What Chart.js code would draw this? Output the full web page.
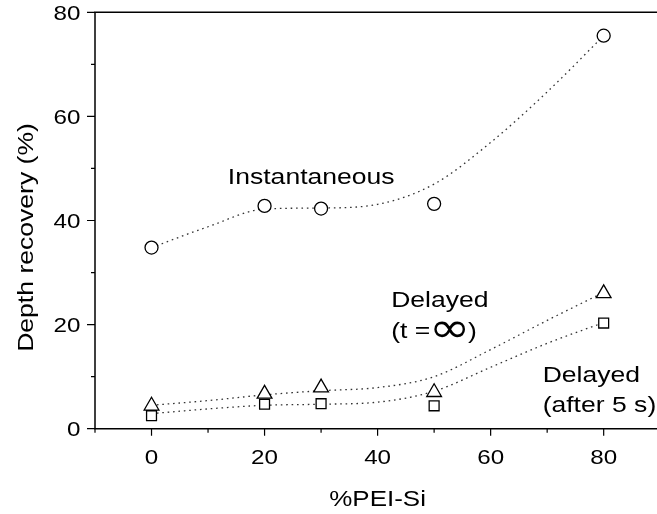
<!DOCTYPE html>
<html><head><meta charset="utf-8">
<script src="https://cdn.jsdelivr.net/npm/chart.js@4/dist/chart.umd.min.js"></script>
<style>html,body{margin:0;padding:0;overflow:hidden;background:#fff}#wrap{width:670px;height:514px}</style>
</head><body><div id="wrap"><canvas id="c" width="670" height="514"></canvas></div>
<script>
// ---- data ----
const xCategories = [0, 20, 30, 50, 80];
const instantaneous = [34.8, 42.8, 42.3, 43.2, 75.5];
const delayedInfinity = [4.4, 6.7, 7.9, 7.0, 26.0];
const delayedAfter5s = [2.5, 4.7, 4.8, 4.4, 20.3];
// dotted fitted curves
const fitX = [0, 10, 20, 30, 40, 50, 60, 70, 80];
const instantaneousFit = [34.8, 38.8, 42.2, 42.4, 43.1, 47.0, 55.0, 64.7, 75.5];
const delayedInfinityFit = [4.5, 5.4, 6.5, 7.3, 7.9, 10.0, 15.2, 20.8, 26.2];
const delayedAfter5sFit = [2.9, 3.8, 4.5, 4.7, 5.1, 7.2, 11.8, 16.4, 20.4];
// axes
const xMajorTicks = [0, 20, 40, 60, 80];
const xMinorTicks = [-10, 10, 30, 50, 70, 90];
const yMajorTicks = [0, 20, 40, 60, 80];
const yMinorTicks = [10, 30, 50, 70];
const xTitle = '%PEI-Si';
const yTitle = 'Depth recovery (%)';
// annotation labels (data coordinates of their left/baseline)
const labelTexts = ['Instantaneous', 'Delayed', 'Delayed', '(after 5 s)'];
const labelX = [13.5, 42.4, 69.2, 69.2];
const labelY = [47.0, 23.3, 9.0, 3.2];

const pts = (xs, ys) => xs.map((x, i) => ({x: x, y: ys[i]}));
const FONT = '"Liberation Sans", Arial, sans-serif';
const SX = 1.18;

function txt(ctx, s, x, y, size, align, base, font) {
  ctx.save();
  ctx.translate(x, y);
  ctx.scale(SX, 1);
  ctx.font = size + 'px ' + (font || FONT);
  ctx.textAlign = align;
  ctx.textBaseline = base;
  ctx.fillStyle = '#000';
  ctx.fillText(s, 0, 0);
  ctx.restore();
}
function txtWidth(ctx, s, size, font) {
  ctx.save();
  ctx.font = size + 'px ' + (font || FONT);
  const w = ctx.measureText(s).width * SX;
  ctx.restore();
  return w;
}

const axesPlugin = {
  id: 'axesPlugin',
  afterDraw(chart) {
    const ctx = chart.ctx, a = chart.chartArea;
    const xs = chart.scales.x, ys = chart.scales.y;
    ctx.save();
    ctx.strokeStyle = '#000';
    ctx.lineWidth = 1.5;
    ctx.beginPath();
    ctx.moveTo(a.left, a.top); ctx.lineTo(a.right, a.top);
    ctx.moveTo(a.left, a.top - 0.75); ctx.lineTo(a.left, a.bottom);
    ctx.moveTo(a.left - 0.75, a.bottom); ctx.lineTo(a.right, a.bottom);
    ctx.moveTo(a.right, a.top); ctx.lineTo(a.right, a.bottom);
    ctx.stroke();
    ctx.lineWidth = 1.2;
    ctx.beginPath();
    xMajorTicks.forEach(v => { const p = xs.getPixelForValue(v); ctx.moveTo(p, a.bottom); ctx.lineTo(p, a.bottom + 7); });
    xMinorTicks.forEach(v => { const p = xs.getPixelForValue(v); ctx.moveTo(p, a.bottom); ctx.lineTo(p, a.bottom + 4); });
    yMajorTicks.forEach(v => { const p = ys.getPixelForValue(v); ctx.moveTo(a.left, p); ctx.lineTo(a.left - 8, p); });
    yMinorTicks.forEach(v => { const p = ys.getPixelForValue(v); ctx.moveTo(a.left, p); ctx.lineTo(a.left - 4, p); });
    ctx.stroke();
    // tick labels
    xMajorTicks.forEach(v => txt(ctx, String(v), xs.getPixelForValue(v), 463.5, 20.5, 'center', 'alphabetic'));
    yMajorTicks.forEach(v => txt(ctx, String(v), 80.5, ys.getPixelForValue(v) + 7.4, 20.5, 'right', 'alphabetic'));
    // axis titles
    txt(ctx, xTitle, (a.left + a.right) / 2, 505.5, 22, 'center', 'alphabetic');
    ctx.save();
    ctx.translate(32.5, 237.5);
    ctx.rotate(-Math.PI / 2);
    txt(ctx, yTitle, 0, 0, 22.5, 'center', 'alphabetic');
    ctx.restore();
    // annotations
    labelTexts.forEach((s, i) => txt(ctx, s, xs.getPixelForValue(labelX[i]), ys.getPixelForValue(labelY[i]), 22.5, 'left', 'alphabetic'));
    // "(t =∞)" line under the first "Delayed"
    const INF_FONT = '"DejaVu Sans", sans-serif';
    let lx = xs.getPixelForValue(labelX[1]);
    const ly = ys.getPixelForValue(17.4);
    txt(ctx, '(t =', lx, ly, 22.5, 'left', 'alphabetic');
    lx += txtWidth(ctx, '(t =', 22.5) - 1.5;
    txt(ctx, '\u221E', lx, ly + 3.5, 42, 'left', 'alphabetic', INF_FONT);
    lx += txtWidth(ctx, '\u221E', 42, INF_FONT) - 2;
    txt(ctx, ')', lx, ly, 22.5, 'left', 'alphabetic');
    ctx.restore();
  }
};

const curve = (data) => ({
  data: data, showLine: true, pointRadius: 0, pointHoverRadius: 0,
  borderColor: '#333', borderWidth: 1.3, borderDash: [1.6, 3.8],
  cubicInterpolationMode: 'monotone', fill: false, order: 2
});
const markers = (data, style, r) => ({
  data: data, showLine: false, pointStyle: style, pointRadius: r, pointHoverRadius: r,
  pointBorderColor: '#000', pointBackgroundColor: '#fff', pointBorderWidth: 1.3, order: 1
});

new Chart(document.getElementById('c'), {
  type: 'scatter',
  data: {
    datasets: [
      curve(pts(fitX, instantaneousFit)),
      curve(pts(fitX, delayedInfinityFit)),
      curve(pts(fitX, delayedAfter5sFit)),
      markers(pts(xCategories, instantaneous), 'circle', 6.5),
      markers(pts(xCategories, delayedInfinity), 'triangle', 8.5),
      markers(pts(xCategories, delayedAfter5s), 'rect', 7)
    ]
  },
  options: {
    responsive: false, animation: false, devicePixelRatio: 1,
    layout: {padding: {left: 95, right: 9, top: 12.3, bottom: 85.3}},
    scales: {
      x: {type: 'linear', min: -10, max: 90, display: false},
      y: {type: 'linear', min: 0, max: 80, display: false}
    },
    plugins: {legend: {display: false}, tooltip: {enabled: false}}
  },
  plugins: [axesPlugin]
});
</script>
</body></html>
